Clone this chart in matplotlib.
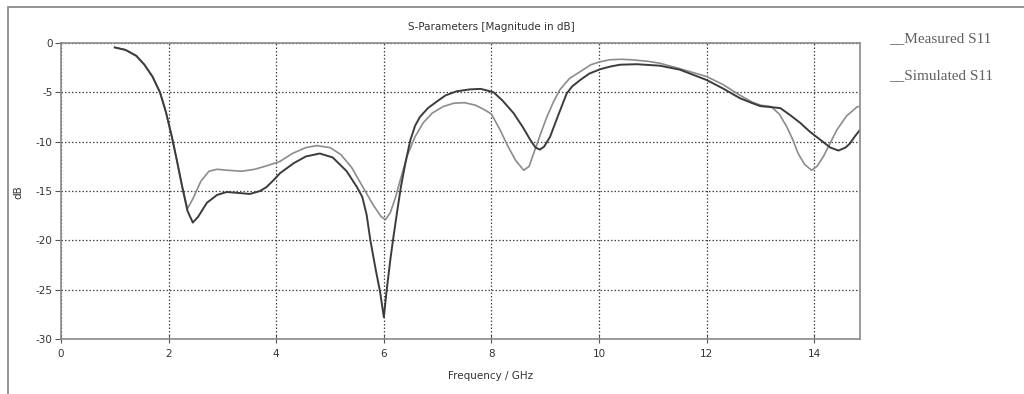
import numpy as np
import matplotlib.pyplot as plt
from matplotlib.patches import Rectangle

plt.rcParams['axes.unicode_minus'] = False

# Frequency (GHz) and |S11| (dB)
meas_freq = [1.0, 1.2, 1.4, 1.55, 1.7, 1.84, 1.95, 2.06, 2.15, 2.25,
             2.35, 2.45, 2.6, 2.75, 2.9, 3.1, 3.35, 3.6, 3.85, 4.07,
             4.3, 4.55, 4.75, 5.0, 5.2, 5.4, 5.6, 5.8, 5.95, 6.03,
             6.12, 6.22, 6.32, 6.43, 6.58, 6.73, 6.9, 7.1, 7.3, 7.5,
             7.7, 7.85, 8.0, 8.16, 8.3, 8.45, 8.6, 8.7, 8.81, 8.92,
             9.03, 9.15, 9.27, 9.45, 9.65, 9.85, 10.02, 10.2, 10.4, 10.6,
             10.9, 11.13, 11.5, 12.0, 12.3, 12.62, 12.85, 13.0, 13.2, 13.35,
             13.49, 13.6, 13.7, 13.82, 13.95, 14.05, 14.17, 14.3, 14.42, 14.6,
             14.79, 14.85]
meas_db = [-0.45, -0.7, -1.3, -2.2, -3.4, -5.0, -7.0, -9.5, -11.8, -14.5,
           -16.8, -15.8, -14.0, -13.0, -12.8, -12.9, -13.0, -12.8, -12.4, -12.0,
           -11.2, -10.6, -10.4, -10.6, -11.3, -12.6, -14.5, -16.4, -17.6, -17.9,
           -17.2, -15.6, -13.6, -11.5, -9.5, -8.1, -7.1, -6.45, -6.1, -6.05,
           -6.3, -6.7, -7.2, -8.8, -10.4, -11.9, -12.9, -12.5, -10.8, -9.1,
           -7.5, -6.0, -4.75, -3.6, -2.9, -2.2, -1.9, -1.7, -1.65, -1.7,
           -1.85, -2.05, -2.6, -3.4, -4.2, -5.3, -6.0, -6.3, -6.45, -7.2,
           -8.5, -9.8, -11.2, -12.3, -12.9, -12.5, -11.5, -10.1, -8.8, -7.4,
           -6.5, -6.4]

sim_freq = [1.0, 1.2, 1.4, 1.55, 1.7, 1.84, 1.95, 2.06, 2.15, 2.25,
            2.35, 2.45, 2.55, 2.71, 2.9, 3.08, 3.3, 3.51, 3.7, 3.82,
            3.95, 4.07, 4.32, 4.55, 4.81, 5.05, 5.31, 5.5, 5.6, 5.68,
            5.75, 5.85, 5.93, 6.0, 6.05, 6.12, 6.18, 6.25, 6.32, 6.4,
            6.49, 6.58, 6.67, 6.82, 6.98, 7.15, 7.35, 7.6, 7.8, 7.91,
            8.04, 8.2, 8.41, 8.58, 8.72, 8.82, 8.9, 8.98, 9.09, 9.25,
            9.4, 9.5, 9.65, 9.82, 10.02, 10.2, 10.39, 10.7, 11.13, 11.5,
            12.0, 12.3, 12.62, 12.85, 13.0, 13.2, 13.37, 13.55, 13.74, 13.92,
            14.11, 14.3, 14.45, 14.58, 14.66, 14.75, 14.85]
sim_db = [-0.45, -0.7, -1.3, -2.2, -3.4, -5.0, -7.0, -9.5, -11.8, -14.5,
          -17.0, -18.2, -17.6, -16.2, -15.4, -15.1, -15.2, -15.3, -15.0, -14.6,
          -13.9, -13.2, -12.2, -11.5, -11.2, -11.6, -13.0, -14.6, -15.6, -17.4,
          -20.0, -23.0, -25.2, -27.8, -25.2, -22.0, -19.6, -17.0, -14.5, -12.2,
          -9.9, -8.4, -7.5, -6.6, -5.95, -5.3, -4.9, -4.7, -4.65, -4.8,
          -5.0, -5.8, -7.1, -8.5, -9.8, -10.6, -10.8, -10.5, -9.5, -7.2,
          -5.1, -4.4, -3.75, -3.1, -2.66, -2.4, -2.2, -2.15, -2.3, -2.7,
          -3.75, -4.6, -5.6, -6.1, -6.4, -6.5, -6.6, -7.3, -8.1, -9.0,
          -9.8, -10.6, -10.9, -10.6, -10.2, -9.5, -8.8]

x_ticks = [0, 2, 4, 6, 8, 10, 12, 14]
y_ticks = [-30, -25, -20, -15, -10, -5, 0]

W, H = 1024, 394
fig = plt.figure(figsize=(W / 100, H / 100), dpi=100)

# outer frame (cut off at right and bottom)
fig.patches.append(Rectangle((8 / W, -0.05), 1.1, 1 - 7 / H + 0.05,
                             transform=fig.transFigure, fill=False,
                             edgecolor='#8a8a8a', linewidth=1.3))

ax = fig.add_axes([61 / W, 1 - 339 / H, (860 - 61) / W, (339 - 43) / H])

ax.plot(meas_freq, meas_db, color='#8c8c8c', linewidth=1.2)
ax.plot(sim_freq, sim_db, color='#3c3c3c', linewidth=1.4)

ax.set_xlim(0, 14.85)
ax.set_ylim(-30, 0)
ax.set_xticks(x_ticks)
ax.set_yticks(y_ticks)
ax.grid(True, color='#444444', linestyle=(0, (1.2, 1.6)), linewidth=0.9)
for s in ax.spines.values():
    s.set_color('#8a8a8a')
    s.set_linewidth(1.2)
ax.tick_params(axis='x', direction='inout', length=6, color='#555555',
               labelsize=7.5, labelcolor='#333333', pad=4)
ax.tick_params(axis='y', direction='out', length=4, color='#555555',
               labelsize=7.5, labelcolor='#333333', pad=2)

fig.text(491 / W, 1 - 27 / H, 'S-Parameters [Magnitude in dB]',
         ha='center', va='center', fontsize=7.5, color='#333333')
fig.text(491 / W, 1 - 376 / H, 'Frequency / GHz',
         ha='center', va='center', fontsize=7.5, color='#333333')
fig.text(18 / W, 1 - 192 / H, 'dB', rotation=90,
         ha='center', va='center', fontsize=7.5, color='#333333')

# legend drawn as plain text, as in the original
fig.text(889 / W, 1 - 39 / H, '__Measured S11', family='Liberation Serif',
         ha='left', va='center', fontsize=11, color='#606060')
fig.text(889 / W, 1 - 76 / H, '__Simulated S11', family='Liberation Serif',
         ha='left', va='center', fontsize=11, color='#606060')

fig.savefig('out.png', dpi=100)
